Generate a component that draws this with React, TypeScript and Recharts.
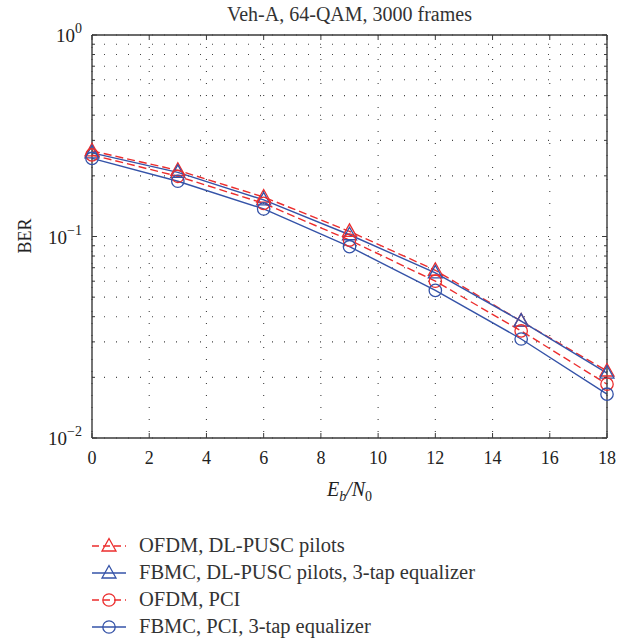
import { CartesianGrid, Line, LineChart, XAxis, YAxis } from "recharts";

const snr = [0, 3, 6, 9, 12, 15, 18];
const ofdmPilots = [0.266, 0.213, 0.157, 0.106, 0.068, 0.038, 0.0215];
const fbmcPilots = [0.26, 0.208, 0.152, 0.102, 0.066, 0.038, 0.021];
const ofdmPci = [0.254, 0.199, 0.146, 0.096, 0.06, 0.034, 0.0185];
const fbmcPci = [0.244, 0.188, 0.137, 0.089, 0.054, 0.031, 0.0165];

const xTicks = [0, 2, 4, 6, 8, 10, 12, 14, 16, 18];
const yTicks = [
  0.01, 0.02, 0.03, 0.04, 0.05, 0.06, 0.07, 0.08, 0.09,
  0.1, 0.2, 0.3, 0.4, 0.5, 0.6, 0.7, 0.8, 0.9, 1,
];
const yMajor: Record<number, string> = { 0.01: "\u22122", 0.1: "\u22121", 1: "0" };

const title = "Veh-A, 64-QAM, 3000 frames";
const legendNames = [
  "OFDM, DL-PUSC pilots",
  "FBMC, DL-PUSC pilots, 3-tap equalizer",
  "OFDM, PCI",
  "FBMC, PCI, 3-tap equalizer",
];

const RED = "#ec2d2d";
const BLUE = "#3553a8";
const AXIS = "#3a3a3a";
const FONT = "'Liberation Serif', 'Times New Roman', serif";

const data = snr.map((s, i) => ({
  snr: s,
  ofdmPilots: ofdmPilots[i],
  fbmcPilots: fbmcPilots[i],
  ofdmPci: ofdmPci[i],
  fbmcPci: fbmcPci[i],
}));

const series = [
  { key: "ofdmPilots", color: RED, dashed: true, marker: "tri" },
  { key: "fbmcPilots", color: BLUE, dashed: false, marker: "tri" },
  { key: "ofdmPci", color: RED, dashed: true, marker: "circ" },
  { key: "fbmcPci", color: BLUE, dashed: false, marker: "circ" },
];

function Marker({ cx, cy, kind, color }: any) {
  if (kind === "tri") {
    return (
      <polygon
        points={`${cx},${cy - 7.5} ${cx - 7},${cy + 5} ${cx + 7},${cy + 5}`}
        fill="none"
        stroke={color}
        strokeWidth={1.3}
      />
    );
  }
  return <circle cx={cx} cy={cy} r={6.2} fill="none" stroke={color} strokeWidth={1.3} />;
}

function XTick({ x, y, payload, top }: any) {
  const dir = top ? 1 : -1;
  return (
    <g>
      <line x1={x} x2={x} y1={y} y2={y + dir * 5} stroke={AXIS} strokeWidth={1} />
      {!top && (
        <text x={x} y={y + 26} textAnchor="middle" fontFamily={FONT} fontSize={18} fill="#222">
          {payload.value}
        </text>
      )}
    </g>
  );
}

function YTick({ x, y, payload, right }: any) {
  const exp = yMajor[payload.value];
  const dir = right ? -1 : 1;
  const len = exp ? 5 : 3;
  return (
    <g>
      <line x1={x} x2={x + dir * len} y1={y} y2={y} stroke={AXIS} strokeWidth={1} />
      {!right && exp && (
        <text x={x - 10} y={y + 7} textAnchor="end" fontFamily={FONT} fontSize={19} fill="#222">
          10
          <tspan dy={-9} fontSize={14}>
            {exp}
          </tspan>
        </text>
      )}
    </g>
  );
}

function LegendIcon({ color, dashed, marker }: any) {
  return (
    <svg width={38} height={20} style={{ display: "block" }}>
      <line
        x1={2}
        x2={36}
        y1={10}
        y2={10}
        stroke={color}
        strokeWidth={1.3}
        strokeDasharray={dashed ? "7 4" : undefined}
      />
      <Marker cx={19} cy={10} kind={marker} color={color} />
    </svg>
  );
}

export default function App() {
  return (
    <div style={{ position: "absolute", left: 0, top: 0, width: 628, height: 638, background: "#fff" }}>
      <LineChart
        width={628}
        height={638}
        data={data}
        margin={{ top: 25, right: 11, bottom: 170, left: 32 }}
      >
        <CartesianGrid
          xAxisId="b"
          yAxisId="l"
          stroke="#444"
          strokeWidth={1.1}
          strokeDasharray="1 11"
        />
        <XAxis
          xAxisId="b"
          dataKey="snr"
          type="number"
          domain={[0, 18]}
          ticks={xTicks}
          height={30}
          tickSize={0}
          tickMargin={0}
          tickLine={false}
          axisLine={{ stroke: AXIS, strokeWidth: 1.4 }}
          tick={<XTick />}
          interval={0}
        />
        <XAxis
          xAxisId="t"
          orientation="top"
          dataKey="snr"
          type="number"
          domain={[0, 18]}
          ticks={xTicks}
          height={10}
          tickSize={0}
          tickMargin={0}
          tickLine={false}
          axisLine={{ stroke: AXIS, strokeWidth: 1.4 }}
          tick={<XTick top />}
          interval={0}
        />
        <YAxis
          yAxisId="l"
          scale="log"
          type="number"
          domain={[0.01, 1]}
          allowDataOverflow
          ticks={yTicks}
          width={60}
          tickSize={0}
          tickMargin={0}
          tickLine={false}
          axisLine={{ stroke: AXIS, strokeWidth: 1.4 }}
          tick={<YTick />}
          interval={0}
        />
        <YAxis
          yAxisId="r"
          orientation="right"
          scale="log"
          type="number"
          domain={[0.01, 1]}
          allowDataOverflow
          ticks={yTicks}
          width={10}
          tickSize={0}
          tickMargin={0}
          tickLine={false}
          axisLine={{ stroke: AXIS, strokeWidth: 1.4 }}
          tick={<YTick right />}
          interval={0}
        />
        {series.map((s) => (
          <Line
            key={s.key}
            xAxisId="b"
            yAxisId="l"
            dataKey={s.key}
            type="linear"
            stroke={s.color}
            strokeWidth={1.4}
            strokeDasharray={s.dashed ? "8 4" : undefined}
            isAnimationActive={false}
            dot={(p: any) => (
              <Marker key={`${s.key}-${p.index}`} cx={p.cx} cy={p.cy} kind={s.marker} color={s.color} />
            )}
            activeDot={false}
          />
        ))}
      </LineChart>

      <div
        style={{
          position: "absolute",
          left: 92,
          width: 515,
          top: 3,
          textAlign: "center",
          fontFamily: FONT,
          fontSize: 20,
          color: "#333",
        }}
      >
        {title}
      </div>
      <div
        style={{
          position: "absolute",
          left: 25 - 40,
          top: 236 - 12,
          width: 80,
          textAlign: "center",
          transform: "rotate(-90deg)",
          fontFamily: FONT,
          fontSize: 18,
          color: "#222",
          lineHeight: "24px",
        }}
      >
        BER
      </div>
      <div
        style={{
          position: "absolute",
          left: 92,
          width: 515,
          top: 478,
          textAlign: "center",
          fontFamily: FONT,
          fontSize: 20,
          fontStyle: "italic",
          color: "#222",
        }}
      >
        E<sub style={{ fontSize: 14 }}>b</sub>/N<sub style={{ fontSize: 14, fontStyle: "normal" }}>0</sub>
      </div>
      <div style={{ position: "absolute", left: 90, top: 532 }}>
        {series.map((s, i) => (
          <div
            key={s.key}
            style={{ display: "flex", alignItems: "center", height: 27, fontFamily: FONT, fontSize: 20.5, color: "#333" }}
          >
            <LegendIcon color={s.color} dashed={s.dashed} marker={s.marker} />
            <span style={{ marginLeft: 11, whiteSpace: "nowrap" }}>{legendNames[i]}</span>
          </div>
        ))}
      </div>
    </div>
  );
}
